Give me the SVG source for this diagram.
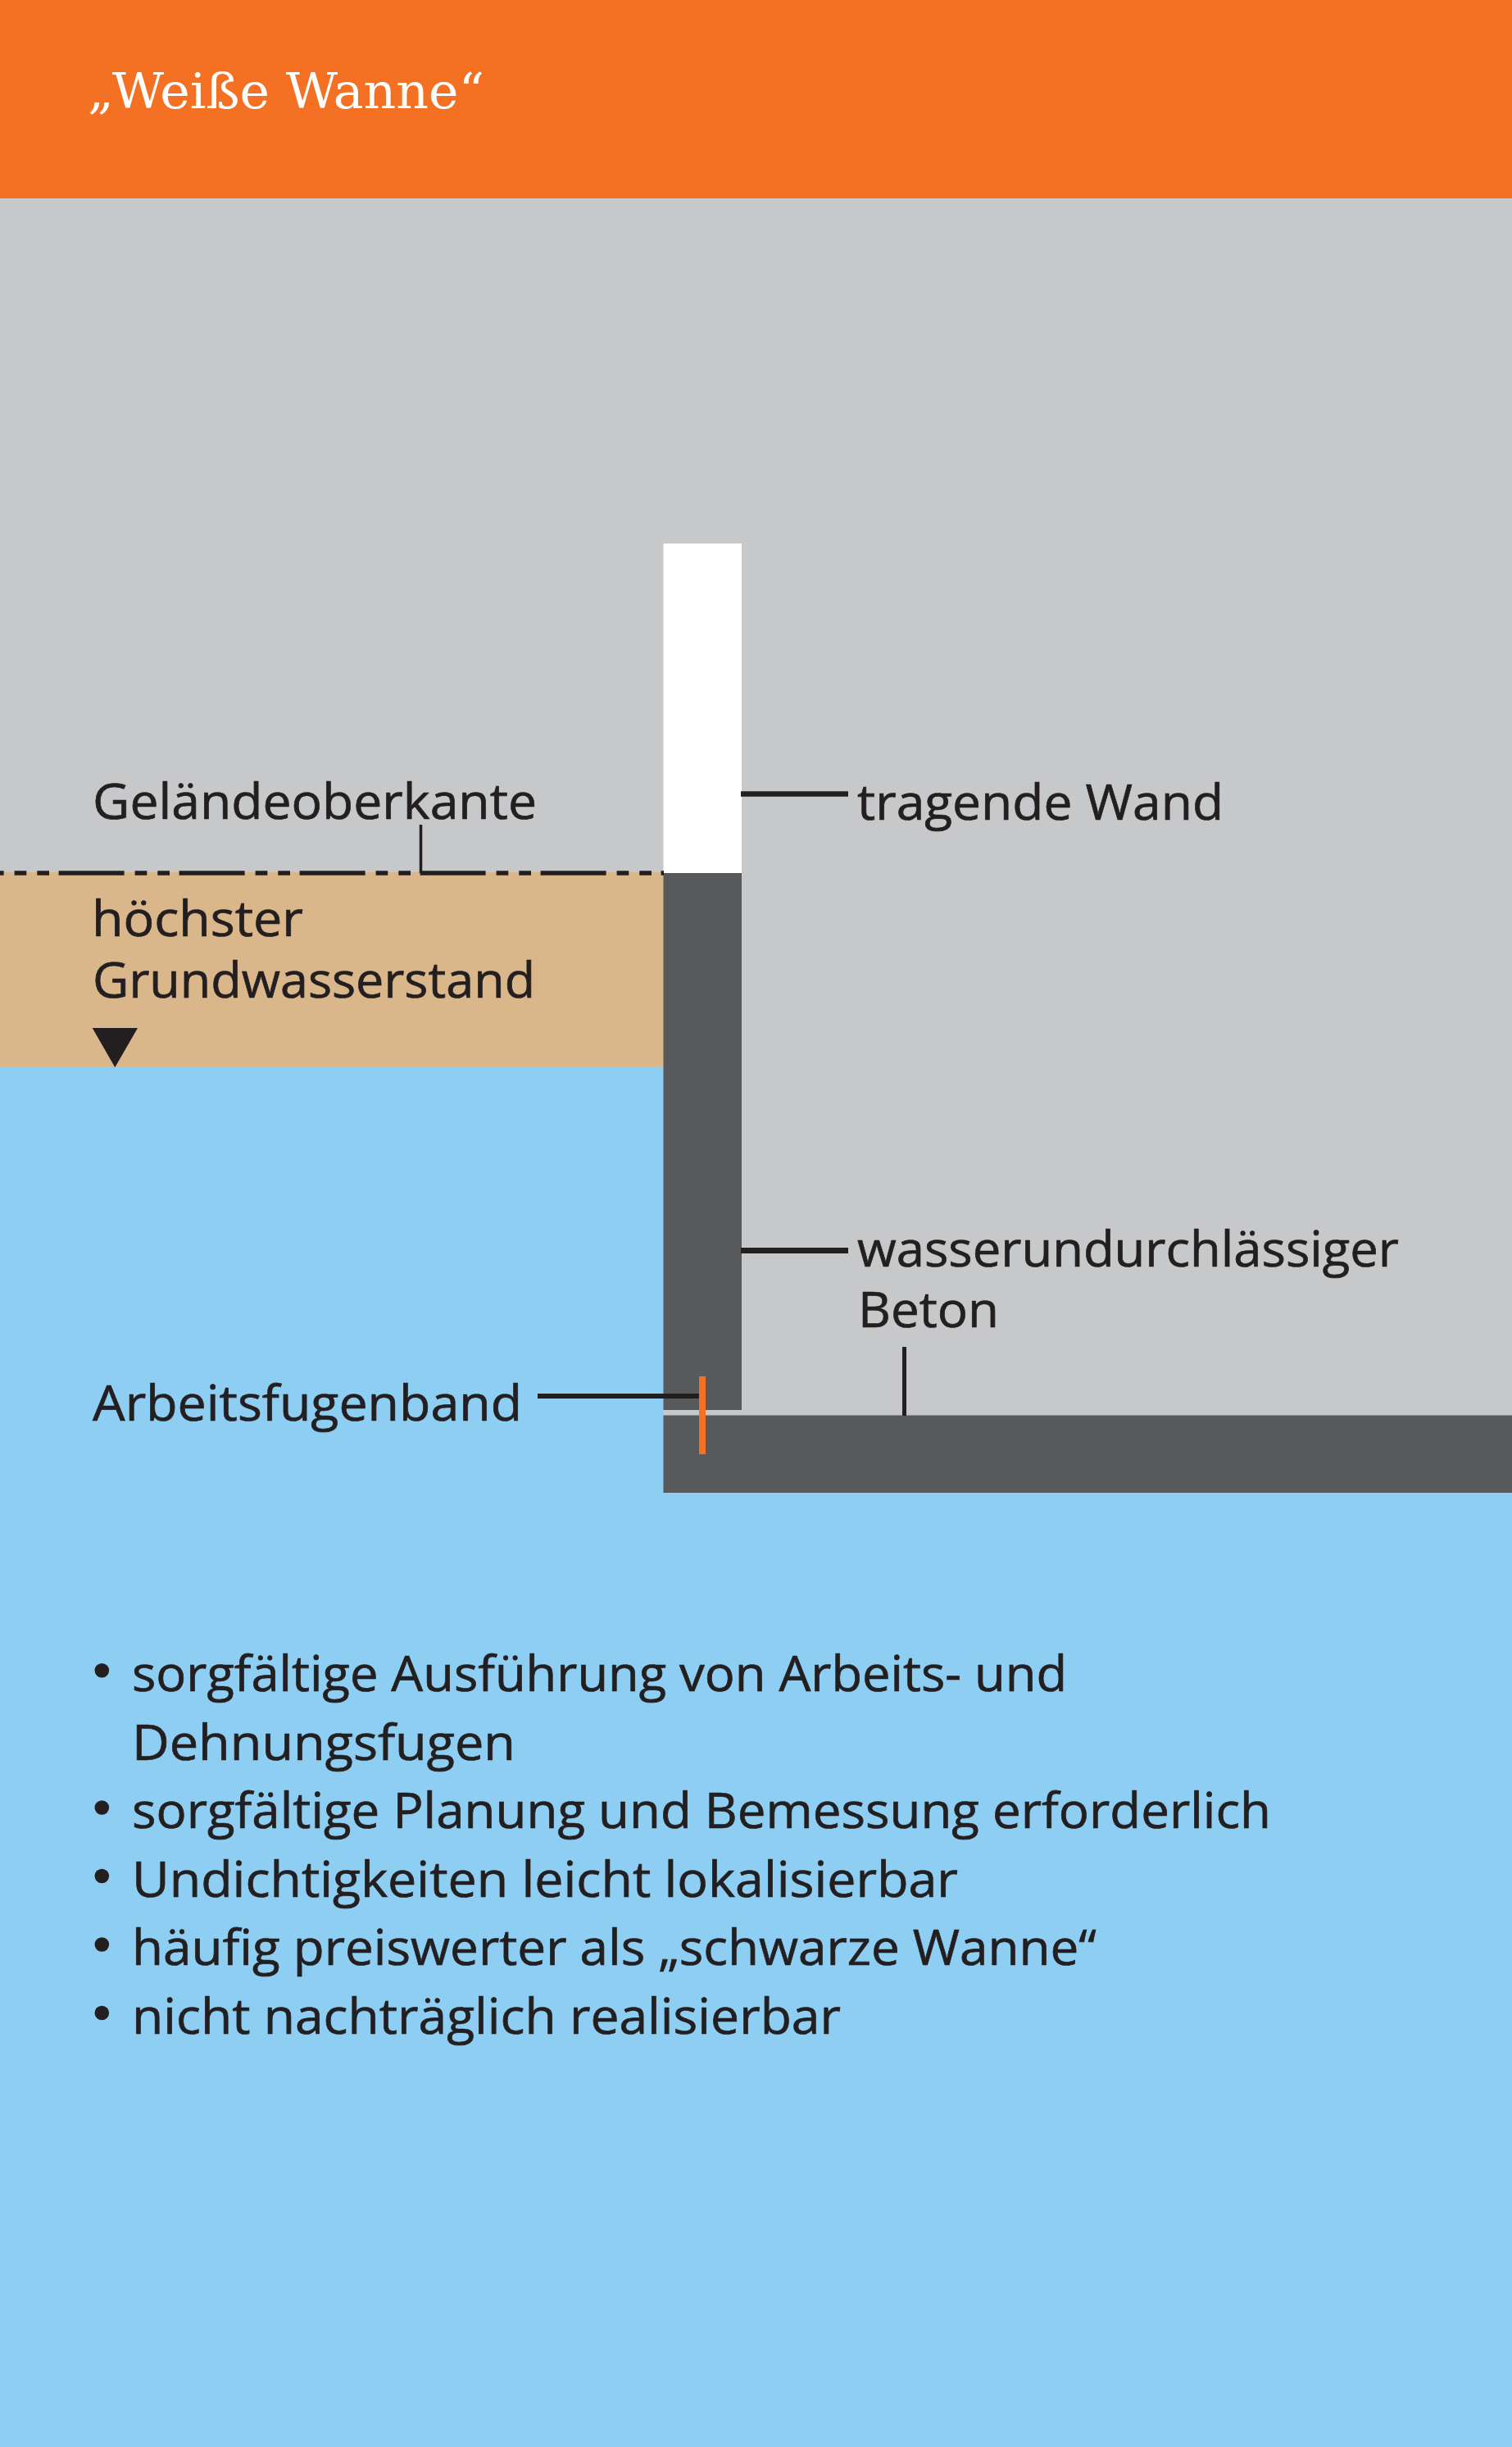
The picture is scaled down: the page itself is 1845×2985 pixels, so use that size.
<svg xmlns="http://www.w3.org/2000/svg" width="1845" height="2985" viewBox="0 0 1845 2985">
<style>
.t{font-family:"Open Sans","Liberation Sans",sans-serif;font-size:61px;fill:#231f20;stroke:#231f20;stroke-width:0.7}
.h{font-family:"DejaVu Serif","Liberation Serif",serif;font-size:60px;fill:#fff}
.l{stroke:#231f20;fill:none}
</style>
<g id="background">
<rect x="0" y="0" width="1845" height="2985" fill="#8ecef3"/>
<rect x="0" y="242" width="1845" height="822" fill="#c6c8ca"/>
<rect x="905" y="1064" width="940" height="663" fill="#c6c8ca"/>
<rect x="0" y="1064" width="810" height="237" fill="#d9b78a"/>
</g>
<g id="header">
<rect x="0" y="0" width="1845" height="242" fill="#f47124"/>
<text class="h" x="107" y="132" textLength="484" lengthAdjust="spacingAndGlyphs">„Weiße Wanne“</text>
</g>
<g id="wall">
<rect x="809.500" y="663" width="95.500" height="402" fill="#fff"/>
<rect x="809.500" y="1065" width="95.500" height="655" fill="#58595b"/>
<rect x="809.500" y="1720" width="95.500" height="7" fill="#c6c8ca"/>
<rect x="809.500" y="1726.500" width="1035.500" height="94.500" fill="#58595b"/>
</g>
<g id="connectors">
<path class="l" stroke-width="5.500" stroke-dasharray="80 13 14.700 13 14.700 11.600" d="M-75.400 1065H810"/>
<path class="l" stroke-width="3.500" d="M513.500 1006V1065"/>
<path class="l" stroke-width="6.500" d="M904 968.500H1035"/>
<path class="l" stroke-width="7" d="M904 1525.500H1035"/>
<path class="l" stroke-width="5" d="M1103.500 1643V1727"/>
<path class="l" stroke-width="5.800" d="M656 1703H853"/>
<rect x="853" y="1679" width="8" height="95" fill="#f47124"/>
</g>
<g id="groundwater-marker"><polygon points="112.700,1254 168,1254 140.300,1302" fill="#231f20"/></g>
<g id="labels">
<text class="t" x="113" y="999" textLength="542" lengthAdjust="spacingAndGlyphs">Geländeoberkante</text>
<text class="t" x="112" y="1142" textLength="258" lengthAdjust="spacingAndGlyphs">höchster</text>
<text class="t" x="113" y="1217" textLength="540" lengthAdjust="spacingAndGlyphs">Grundwasserstand</text>
<text class="t" x="1046" y="1000" textLength="447" lengthAdjust="spacingAndGlyphs">tragende Wand</text>
<text class="t" x="1046" y="1545" textLength="661" lengthAdjust="spacingAndGlyphs">wasserundurchlässiger</text>
<text class="t" x="1047" y="1619" textLength="172" lengthAdjust="spacingAndGlyphs">Beton</text>
<text class="t" x="113" y="1733" textLength="524" lengthAdjust="spacingAndGlyphs">Arbeitsfugenband</text>
</g>
<g id="bullets">
<circle cx="124.300" cy="2037.700" r="8.800" fill="#231f20"/>
<text class="t" x="161" y="2062.700" textLength="1141" lengthAdjust="spacingAndGlyphs">sorgfältige Ausführung von Arbeits- und</text>
<text class="t" x="161" y="2146.700" textLength="468" lengthAdjust="spacingAndGlyphs">Dehnungsfugen</text>
<circle cx="124.300" cy="2205" r="8.800" fill="#231f20"/>
<text class="t" x="161" y="2230" textLength="1390" lengthAdjust="spacingAndGlyphs">sorgfältige Planung und Bemessung erforderlich</text>
<circle cx="124.300" cy="2288.500" r="8.800" fill="#231f20"/>
<text class="t" x="161" y="2313.500" textLength="1008" lengthAdjust="spacingAndGlyphs">Undichtigkeiten leicht lokalisierbar</text>
<circle cx="124.300" cy="2372" r="8.800" fill="#231f20"/>
<text class="t" x="161" y="2397" textLength="1177" lengthAdjust="spacingAndGlyphs">häufig preiswerter als „schwarze Wanne“</text>
<circle cx="124.300" cy="2455.500" r="8.800" fill="#231f20"/>
<text class="t" x="161" y="2480.500" textLength="865" lengthAdjust="spacingAndGlyphs">nicht nachträglich realisierbar</text>
</g>
</svg>
